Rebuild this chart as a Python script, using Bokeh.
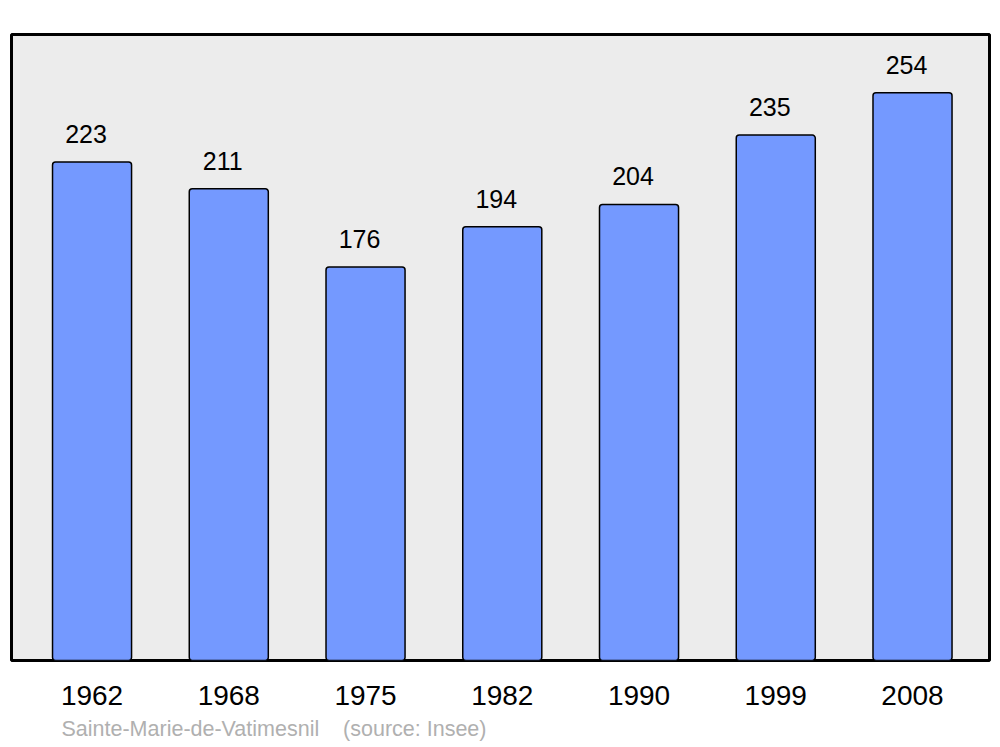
from bokeh.plotting import figure
from bokeh.models import Range1d, FixedTicker, Title, ColumnDataSource
from bokeh.core.properties import value
from bokeh.embed import file_html
from bokeh.resources import INLINE

years = ["1962", "1968", "1975", "1982", "1990", "1999", "2008"]
population = [223, 211, 176, 194, 204, 235, 254]

xs = list(range(len(years)))
src = ColumnDataSource(dict(x=xs, top=population, label=[str(v) for v in population]))

p = figure(frame_width=978, frame_height=626, output_backend="svg", toolbar_location=None,
           x_range=Range1d(-0.589, 6.563), y_range=Range1d(0, 280),
           min_border_left=11, min_border_right=11, min_border_top=34, min_border_bottom=0)
p.background_fill_color = "#ececec"
p.border_fill_color = "white"
p.outline_line_color = "black"
p.outline_line_width = 3
p.grid.visible = False
p.yaxis.visible = False

p.vbar(x="x", top="top", bottom=0, width=0.578, source=src,
       fill_color="#7499ff", line_color="black", line_width=1.5,
       border_radius=3)

p.text(x="x", y="top", text="label", source=src, x_offset=-6, y_offset=-28,
       text_align="center", text_baseline="alphabetic",
       text_font=value("Liberation Sans"), text_font_size="25px", text_color="black")

ax = p.xaxis[0]
ax.ticker = FixedTicker(ticks=xs)
ax.major_label_overrides = {i: y for i, y in enumerate(years)}
ax.axis_line_color = None
ax.major_tick_line_color = None
ax.minor_tick_line_color = None
ax.major_tick_out = 0
ax.major_tick_in = 0
ax.major_label_standoff = 25
ax.major_label_text_font = "Liberation Sans"
ax.major_label_text_font_size = "28px"
ax.major_label_text_color = "black"

p.add_layout(Title(text="Sainte-Marie-de-Vatimesnil\u00a0\u00a0\u00a0\u00a0(source: Insee)",
                   align="left", offset=50, text_font="Liberation Sans",
                   text_font_size="21.5px", text_font_style="normal",
                   text_color="#b0b0b0", standoff=14), "below")

open("out.html", "w").write(file_html(p, INLINE))
